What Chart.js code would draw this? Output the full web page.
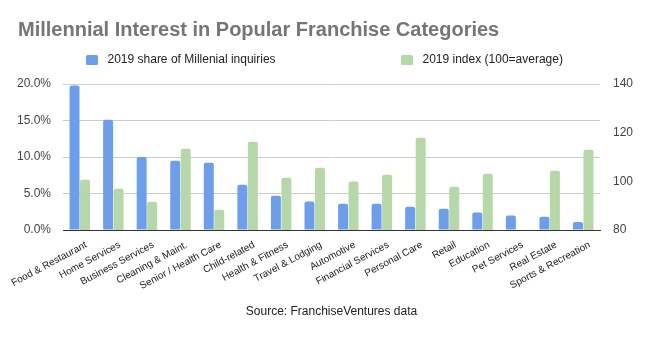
<!DOCTYPE html>
<html><head><meta charset="utf-8">
<script src="https://cdn.jsdelivr.net/npm/chart.js@4"></script>
<style>html,body{margin:0;padding:0;background:#fff}</style>
</head><body>
<canvas id="c" width="650" height="337"></canvas>
<script>
const chartTitle = 'Millennial Interest in Popular Franchise Categories';
const sourceLabel = 'Source: FranchiseVentures data';
const categories = ['Food & Restaurant', 'Home Services', 'Business Services', 'Cleaning & Maint.', 'Senior / Health Care', 'Child-related', 'Health & Fitness', 'Travel & Lodging', 'Automotive', 'Financial Services', 'Personal Care', 'Retail', 'Education', 'Pet Services', 'Real Estate', 'Sports & Recreation'];
const shareLabel = '2019 share of Millenial inquiries';
const indexLabel = '2019 index (100=average)';
const shareValues = [19.8, 15.1, 10.0, 9.5, 9.2, 6.2, 4.7, 3.9, 3.6, 3.6, 3.2, 2.9, 2.4, 2.0, 1.8, 1.1];
const indexValues = [100.7, 97.0, 91.6, 113.4, 88.3, 116.3, 101.5, 105.6, 99.9, 102.7, 117.9, 97.8, 103.1, null, 104.4, 113.0];
const shareTicks = [0, 5, 10, 15, 20];
const indexTicks = [80, 100, 120, 140];

const FAMILY = '"Liberation Sans", Arial, sans-serif';
Chart.defaults.font.family = FAMILY;

const headerPlugin = {
  id: 'header',
  afterDraw(chart) {
    const ctx = chart.ctx;
    ctx.save();
    ctx.font = 'bold 20px ' + FAMILY;
    ctx.fillStyle = '#757575';
    ctx.textBaseline = 'alphabetic';
    ctx.textAlign = 'left';
    ctx.fillText(chartTitle, 18, 36);
    const legendX = [86, 401];
    ctx.font = '12px ' + FAMILY;
    chart.data.datasets.forEach((ds, i) => {
      const x = legendX[i];
      ctx.fillStyle = ds.backgroundColor;
      ctx.beginPath();
      if (ctx.roundRect) ctx.roundRect(x, 55, 12, 10, 1.5); else ctx.rect(x, 55, 12, 10);
      ctx.fill();
      ctx.fillStyle = '#222';
      ctx.textBaseline = 'middle';
      ctx.fillText(ds.label, x + 21.5, 60);
    });
    ctx.restore();
  }
};

new Chart(document.getElementById('c'), {
  type: 'bar',
  data: {
    labels: categories,
    datasets: [
      { label: shareLabel, data: shareValues, backgroundColor: '#6d9eeb', yAxisID: 'y',
        categoryPercentage: 0.625, barPercentage: 0.95,
        borderRadius: { topLeft: 2, topRight: 2 }, borderSkipped: 'bottom' },
      { label: indexLabel, data: indexValues, backgroundColor: '#b6d7a8', yAxisID: 'y1',
        categoryPercentage: 0.625, barPercentage: 0.95,
        borderRadius: { topLeft: 2, topRight: 2 }, borderSkipped: 'bottom' }
    ]
  },
  options: {
    responsive: false,
    animation: false,
    layout: { padding: { top: 84, left: 0, right: 0, bottom: 0 } },
    plugins: { legend: { display: false }, title: { display: false }, tooltip: { enabled: false } },
    scales: {
      x: {
        grid: { display: false, drawTicks: false },
        border: { display: true, color: '#333', width: 1 },
        ticks: { autoSkip: false, maxRotation: 28, minRotation: 28, font: { size: 10 }, color: '#222', padding: 9, labelOffset: 6.5 },
        title: { display: true, text: sourceLabel, font: { size: 12 }, color: '#222', padding: { top: 4, bottom: 18 } },
        afterFit(s) { s.height = 107; s.paddingLeft = 0; s.paddingRight = 0; }
      },
      y: {
        position: 'left', min: 0, max: 20,
        afterBuildTicks(s) { s.ticks = shareTicks.map(v => ({ value: v })); },
        ticks: { callback: v => v.toFixed(1) + '%', padding: 12, font: { size: 12 }, color: '#444' },
        grid: { color: c => (c.tick && c.tick.value === 0) ? '#333' : '#ccc', drawTicks: false },
        border: { display: false },
        afterFit(s) { s.width = 63; }
      },
      y1: {
        position: 'right', min: 80, max: 140,
        afterBuildTicks(s) { s.ticks = indexTicks.map(v => ({ value: v })); },
        ticks: { padding: 13, font: { size: 12 }, color: '#444' },
        grid: { display: false, drawTicks: false },
        border: { display: false },
        afterFit(s) { s.width = 50; }
      }
    }
  },
  plugins: [headerPlugin]
});
</script>
</body></html>
